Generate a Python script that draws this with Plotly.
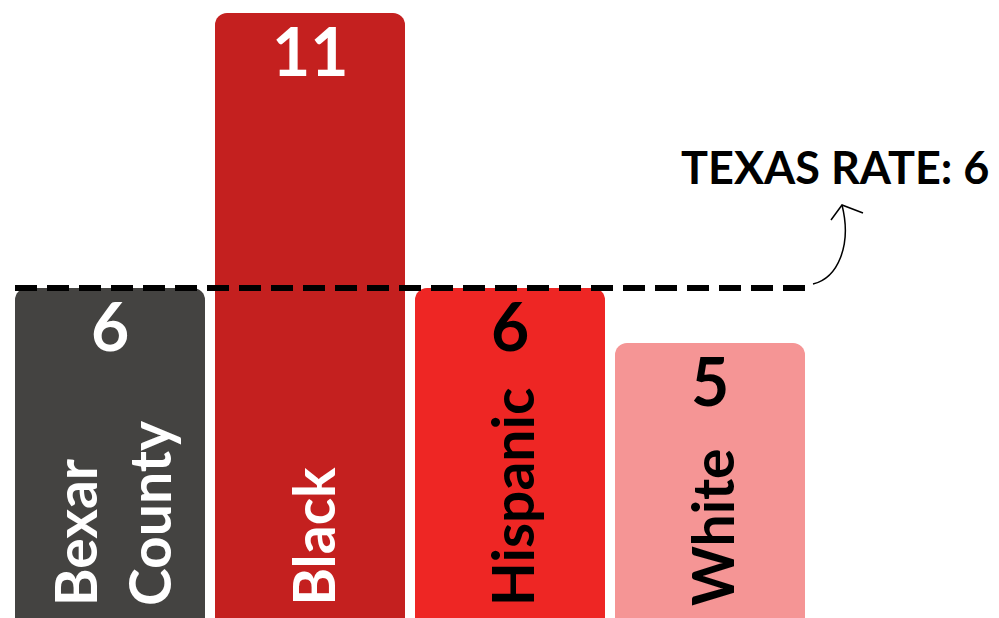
import plotly.graph_objects as go

categories = ["Bexar County", "Black", "Hispanic", "White"]
label_text = ["Bexar<br>County", "Black", "Hispanic", "White"]
values = [6, 11, 6, 5]
texas_rate = 6
bar_colors = ["#444341", "#C4201F", "#EE2624", "#F59595"]
text_colors = ["white", "white", "black", "black"]

FONT = "Lato"
x_idx = list(range(len(categories)))

fig = go.Figure()
fig.add_trace(go.Bar(
    x=x_idx, y=values, width=0.95,
    marker=dict(color=bar_colors, line=dict(width=0)),
    hoverinfo="skip",
))

annotations = []
for i, (v, lab, tc) in enumerate(zip(values, label_text, text_colors)):
    annotations.append(dict(
        x=i, y=v, xref="x", yref="y", text=str(v), showarrow=False,
        xanchor="center", yanchor="top", yshift=4,
        font=dict(family=FONT, size=66, color=tc, weight="bold"),
    ))
    annotations.append(dict(
        x=i + 0.01, y=0, xref="x", yref="y", text=lab, showarrow=False,
        textangle=-90, xanchor="center", yanchor="bottom", yshift=10,
        align="left",
        font=dict(family=FONT, size=57, color=tc, weight="bold"),
    ))

# Texas rate text
annotations.append(dict(
    x=4.405, y=texas_rate + 2.2, xref="x", yref="y", text="TEXAS RATE: 6",
    showarrow=False, xanchor="right", yanchor="middle",
    font=dict(family=FONT, size=45, color="black", weight="bold"),
))

def px2d(px, py):
    return ((px - 110) / 200.0, (618 - py) / 55.0)

def pt(px, py):
    x, y = px2d(px, py)
    return f"{x:.4f},{y:.4f}"

shapes = [
    dict(type="line", xref="x", yref="y",
         x0=-0.475, x1=3.49, y0=texas_rate, y1=texas_rate,
         line=dict(color="black", width=6, dash="22px,10px"), layer="above"),
    dict(type="path", xref="x", yref="y",
         path=f"M {pt(813,284)} C {pt(838,278)} {pt(852,245)} {pt(842,205)}",
         line=dict(color="black", width=1.5), layer="above"),
    dict(type="path", xref="x", yref="y",
         path=f"M {pt(831,220)} L {pt(842,205)} L {pt(863,213)}",
         line=dict(color="black", width=1.5), layer="above"),
]

fig.update_layout(
    width=999, height=618,
    margin=dict(l=0, r=0, t=0, b=0),
    paper_bgcolor="white", plot_bgcolor="white",
    showlegend=False,
    barcornerradius=12,
    xaxis=dict(range=[-0.55, 4.445], visible=False, fixedrange=True),
    yaxis=dict(range=[0, 618 / 55.0], visible=False, fixedrange=True),
    annotations=annotations,
    shapes=shapes,
)

fig.write_html("out.html", config={"displayModeBar": False},
               post_script="document.body.style.margin='0';document.body.style.overflow='hidden';")
